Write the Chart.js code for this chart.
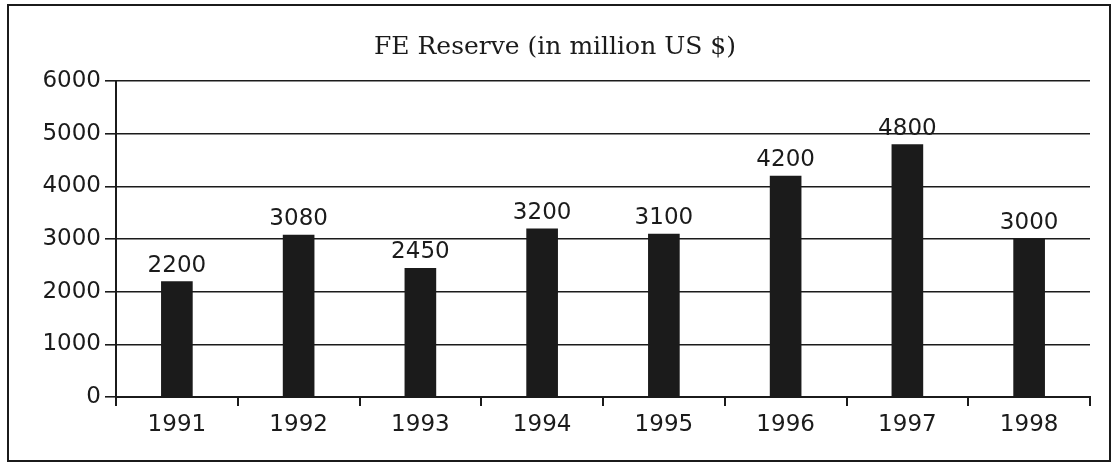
<!DOCTYPE html>
<html>
<head>
<meta charset="utf-8">
<script src="https://cdn.jsdelivr.net/npm/chart.js@4/dist/chart.umd.min.js"></script>
<style>
  html, body { margin: 0; padding: 0; background: #fff; }
  #wrap { width: 1119px; height: 468px; position: relative; }
</style>
</head>
<body>
<div id="wrap"><canvas id="reserveChart"></canvas></div>
<script>
const years = ["1991", "1992", "1993", "1994", "1995", "1996", "1997", "1998"];
const reserve = [2200, 3080, 2450, 3200, 3100, 4200, 4800, 3000];
const yTicks = [0, 1000, 2000, 3000, 4000, 5000, 6000];
const chartTitle = "FE Reserve (in million US $)";

const ink = "#1b1b1b";

// frame round the whole figure
const framePlugin = {
    id: "frame",
    beforeDraw(chart) {
        const ctx = chart.ctx;
        ctx.save();
        ctx.strokeStyle = ink;
        ctx.lineWidth = 2;
        ctx.strokeRect(8, 5, 1102, 456);
        ctx.restore();
    }
};

// value written above each bar
const valueLabels = {
    id: "valueLabels",
    afterDatasetsDraw(chart) {
        const ctx = chart.ctx;
        const meta = chart.getDatasetMeta(0);
        ctx.save();
        ctx.fillStyle = ink;
        ctx.font = "23px 'DejaVu Sans'";
        ctx.textAlign = "center";
        ctx.textBaseline = "bottom";
        meta.data.forEach((bar, i) => {
            ctx.fillText(String(reserve[i]), bar.x, bar.y - 4);
        });
        ctx.restore();
    }
};

new Chart(document.getElementById("reserveChart").getContext("2d"), {
    type: "bar",
    data: {
        labels: years,
        datasets: [{
            data: reserve,
            backgroundColor: ink,
            barPercentage: 0.26,
            categoryPercentage: 1
        }]
    },
    options: {
        responsive: true,
        maintainAspectRatio: false,
        animation: false,
        layout: { padding: { left: 20, right: 29, top: 0, bottom: 0 } },
        plugins: {
            legend: { display: false },
            tooltip: { enabled: false },
            title: {
                display: true,
                text: chartTitle,
                color: ink,
                font: { family: "'DejaVu Serif'", size: 25, weight: "normal" },
                padding: { top: 32, bottom: 19 }
            }
        },
        scales: {
            x: {
                offset: true,
                grid: {
                    offset: true,
                    drawOnChartArea: false,
                    drawTicks: true,
                    tickLength: 9,
                    color: ink,
                    lineWidth: 2
                },
                border: { display: true, color: ink, width: 2 },
                ticks: {
                    color: ink,
                    font: { family: "'DejaVu Sans'", size: 23 },
                    padding: 5
                },
                afterFit(scale) { scale.height = 71; }
            },
            y: {
                min: 0,
                max: 6000,
                afterBuildTicks(scale) { scale.ticks = yTicks.map(v => ({ value: v })); },
                grid: {
                    color: ink,
                    lineWidth: 1.6,
                    drawTicks: true,
                    tickLength: 11
                },
                border: { display: true, color: ink, width: 2 },
                ticks: {
                    color: ink,
                    font: { family: "'DejaVu Sans'", size: 23 },
                    padding: 4,
                    callback: v => String(v)
                },
                afterFit(scale) { scale.width = 96; }
            }
        }
    },
    plugins: [framePlugin, valueLabels]
});
</script>
</body>
</html>
